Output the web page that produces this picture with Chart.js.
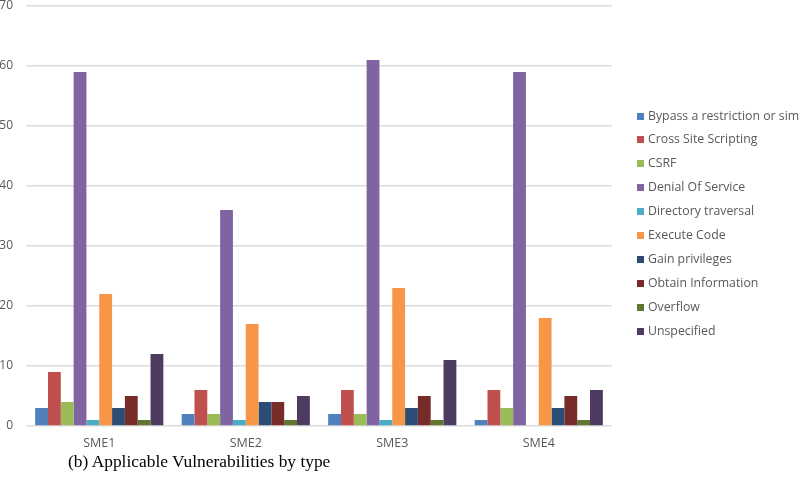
<!DOCTYPE html>
<html>
<head>
<meta charset="utf-8">
<script src="https://cdn.jsdelivr.net/npm/chart.js@4/dist/chart.umd.min.js"></script>
<style>
  html, body { margin: 0; padding: 0; background: #fff; overflow: hidden; }
  #wrap { position: relative; width: 799px; height: 486px; }
  #c { position: absolute; left: 0; top: 0; }
  #caption { position: absolute; left: 68px; top: 451px; font-family: "Liberation Serif", "DejaVu Serif", serif; font-size: 17.4px; color: #000; white-space: nowrap; }
</style>
</head>
<body>
<div id="wrap">
  <canvas id="c" width="799" height="486"></canvas>
  <div id="caption">(b) Applicable Vulnerabilities by type</div>
</div>
<script>
const categories = ["SME1", "SME2", "SME3", "SME4"];
const seriesNames = ["Bypass a restriction or similar", "Cross Site Scripting", "CSRF", "Denial Of Service", "Directory traversal", "Execute Code", "Gain privileges", "Obtain Information", "Overflow", "Unspecified"];
const bypass = [3, 2, 2, 1];
const xss = [9, 6, 6, 6];
const csrf = [4, 2, 2, 3];
const dos = [59, 36, 61, 59];
const dirTraversal = [1, 1, 1, 0];
const execCode = [22, 17, 23, 18];
const gainPriv = [3, 4, 3, 3];
const obtainInfo = [5, 4, 5, 5];
const overflow = [1, 1, 1, 1];
const unspecified = [12, 5, 11, 6];
const yTicks = [0, 10, 20, 30, 40, 50, 60, 70];
const colors = ["#4F81BD", "#C0504D", "#9BBB59", "#8064A2", "#4BACC6", "#F79646", "#2C4D75", "#772C2A", "#5F7530", "#4D3B62"];

const values = [bypass, xss, csrf, dos, dirTraversal, execCode, gainPriv, obtainInfo, overflow, unspecified];
const datasets = seriesNames.map((name, i) => ({
  label: name,
  data: values[i],
  backgroundColor: colors[i],
  borderWidth: 0,
  categoryPercentage: 0.875,
  barPercentage: 1.0
}));

const FONT = '"Open Sans", "Noto Sans", sans-serif';

const legendPlugin = {
  id: 'sideLegend',
  afterDraw(chart) {
    const ctx = chart.ctx;
    ctx.save();
    ctx.font = '12.3px ' + FONT;
    ctx.textBaseline = 'middle';
    ctx.textAlign = 'left';
    chart.data.datasets.forEach((ds, i) => {
      const y = 116 + i * 23.9;
      ctx.fillStyle = ds.backgroundColor;
      ctx.fillRect(637, Math.round(y - 3.5), 7, 7);
      ctx.fillStyle = '#595959';
      ctx.fillText(ds.label, 648, y);
    });
    ctx.restore();
  }
};

new Chart(document.getElementById('c'), {
  type: 'bar',
  data: { labels: categories, datasets: datasets },
  options: {
    responsive: false,
    animation: false,
    layout: { padding: { left: 0, right: 187, top: 6, bottom: 0 } },
    plugins: { legend: { display: false }, tooltip: { enabled: false } },
    scales: {
      x: {
        grid: { display: false },
        border: { display: false },
        ticks: { color: '#595959', font: { family: FONT, size: 12.5 }, padding: 2 },
        afterFit(scale) { scale.height = 60; scale.paddingLeft = 0; scale.paddingRight = 0; }
      },
      y: {
        min: 0, max: 70,
        afterBuildTicks(scale) { scale.ticks = yTicks.map(v => ({ value: v })); },
        grid: { color: '#dcdcdc', lineWidth: 1.5, drawTicks: false },
        border: { display: false },
        ticks: { color: '#595959', font: { family: FONT, size: 12 }, padding: 13 },
        afterFit(scale) { scale.width = 26; scale.paddingTop = 0; scale.paddingBottom = 0; }
      }
    }
  },
  plugins: [legendPlugin]
});
</script>
</body>
</html>
